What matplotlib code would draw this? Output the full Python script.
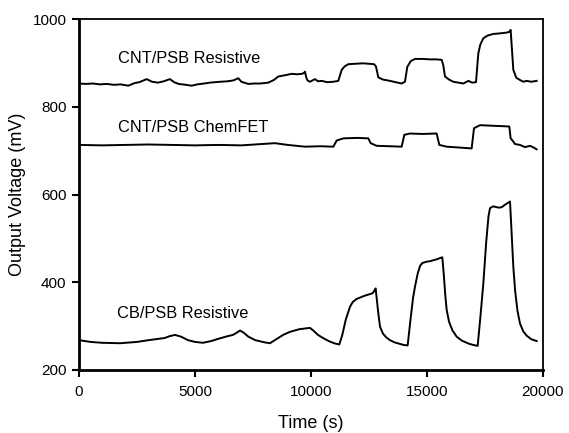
import matplotlib
matplotlib.use("Agg")
import matplotlib.pyplot as plt

plt.rcParams['font.family'] = ['Liberation Sans', 'DejaVu Sans']

# CNT/PSB Resistive
t_res = [0, 300, 600, 900, 1200, 1500, 1800, 2126, 2400, 2600, 2917, 3150, 3405, 3650, 3922,
         4100, 4300, 4600, 4856, 5100, 5400, 5650, 5862, 6100, 6400, 6650, 6868, 7000, 7298,
         7550, 7800, 8000, 8161, 8400, 8592, 8900, 9167, 9400, 9598, 9700, 9741, 9800, 9850,
         9957, 10172, 10300, 10460, 10700, 10963, 11178, 11322, 11450, 11609, 11900, 12256,
         12500, 12716, 12800, 12902, 13100, 13405, 13650, 13908, 14050, 14152, 14300, 14483,
         14800, 15129, 15400, 15632, 15700, 15776, 15950, 16135, 16350, 16566, 16782, 16950,
         17112, 17213, 17300, 17428, 17600, 17859, 18100, 18434, 18560, 18606, 18650, 18721,
         18850, 19009, 19150, 19296, 19500, 19727]
v_res = [853, 852, 853, 851, 852, 850, 851, 848, 854, 856, 863, 857, 855, 858, 863,
         856, 852, 850, 848, 851, 853, 855, 856, 857, 858, 860, 865, 857, 852,
         853, 853, 854, 855, 861, 869, 872, 875, 874, 875, 877, 880, 866, 860,
         857, 863, 858, 859, 856, 857, 859, 884, 892, 897, 898, 899,
         898, 897, 892, 867, 862, 859, 856, 853, 857, 891, 904, 909,
         909, 908, 908, 907, 895, 869, 862, 857, 855, 853, 859, 855,
         856, 922, 942, 956, 962, 966, 967, 969, 971, 975, 940, 884,
         866, 861, 857, 859, 857, 859]

# CNT/PSB ChemFET
t_fet = [0, 1000, 2000, 3000, 4000, 5000, 6000, 7000, 8448, 9000, 9741, 10400, 10963,
         11107, 11394, 12000, 12471, 12572, 12830, 13400, 13908, 14023, 14267, 14800, 15416,
         15531, 15848, 16400, 16925, 17026, 17284, 17700, 18147, 18548, 18606, 18700, 18793,
         19009, 19224, 19440, 19600, 19727]
v_fet = [713, 712, 713, 714, 713, 712, 713, 712, 717, 713, 709, 710, 709,
         723, 728, 729, 728, 717, 711, 710, 709, 736, 739, 738, 739,
         713, 709, 707, 705, 751, 758, 757, 756, 755, 728, 722, 715,
         713, 708, 711, 707, 703]

# CB/PSB Resistive
t_cb = [0, 500, 1000, 1767, 2500, 3000, 3700, 3900, 4138, 4400, 4700, 5000, 5345, 5700,
        6000, 6400, 6638, 6800, 6940, 7100, 7300, 7600, 8000, 8233, 8500, 8800, 9095, 9500,
        9957, 10100, 10300, 10517, 10800, 11000, 11220, 11350, 11500, 11681, 11800, 11968,
        12300, 12658, 12720, 12787, 12900, 12974, 13100, 13250, 13405, 13600, 13800, 14000,
        14166, 14300, 14400, 14483, 14600, 14700, 14800, 15000, 15129, 15400, 15660, 15720,
        15790, 15848, 15950, 16100, 16279, 16500, 16800, 17000, 17184, 17300, 17428, 17550,
        17650, 17716, 17850, 17931, 18100, 18218, 18400, 18578, 18640, 18721, 18800, 18900,
        19009, 19150, 19300, 19500, 19727]
v_cb = [268, 264, 262, 261, 264, 268, 273, 277, 280, 276, 268, 264, 262, 266,
        271, 277, 280, 285, 290, 285, 276, 268, 263, 261, 270, 280, 287, 293,
        296, 290, 280, 273, 265, 261, 258, 280, 315, 344, 355, 362,
        369, 375, 380, 386, 330, 299, 283, 274, 268, 263, 260, 257,
        256, 320, 365, 390, 420, 437, 444, 447, 448, 452, 457, 420,
        370, 337, 310, 290, 276, 267, 260, 257, 255, 320, 397, 490,
        550, 569, 573, 572, 570, 571, 578, 584, 520, 435, 380, 335,
        306, 288, 278, 270, 266]

labels = ["CNT/PSB Resistive", "CNT/PSB ChemFET", "CB/PSB Resistive"]
label_x = [1681, 1681, 1625]
label_y = [909, 752, 329]

x_ticks = [0, 5000, 10000, 15000, 20000]
y_ticks = [200, 400, 600, 800, 1000]

fig = plt.figure(figsize=(5.69, 4.33), dpi=100)
ax = fig.add_axes([0.1388, 0.1455, 0.8155, 0.8106])

for t, v in [(t_res, v_res), (t_fet, v_fet), (t_cb, v_cb)]:
    ax.plot(t, v, color='black', lw=1.4)

for s, x, y in zip(labels, label_x, label_y):
    ax.text(x, y, s, fontsize=11.8, va='center', ha='left')

ax.set_xlim(0, 20000)
ax.set_ylim(200, 1000)
ax.set_xticks(x_ticks)
ax.set_yticks(y_ticks)
ax.tick_params(direction='out', length=5, width=1.5, labelsize=11, top=False, right=False)
ax.tick_params(axis='x', pad=6)
ax.tick_params(axis='y', pad=4)
for side in ['left', 'bottom']:
    ax.spines[side].set_linewidth(2)
for side in ['top', 'right']:
    ax.spines[side].set_linewidth(1.3)
ax.set_xlabel("Time (s)", fontsize=13, labelpad=11)
ax.set_ylabel("Output Voltage (mV)", fontsize=13, labelpad=5)

fig.savefig("out.png", dpi=100)
